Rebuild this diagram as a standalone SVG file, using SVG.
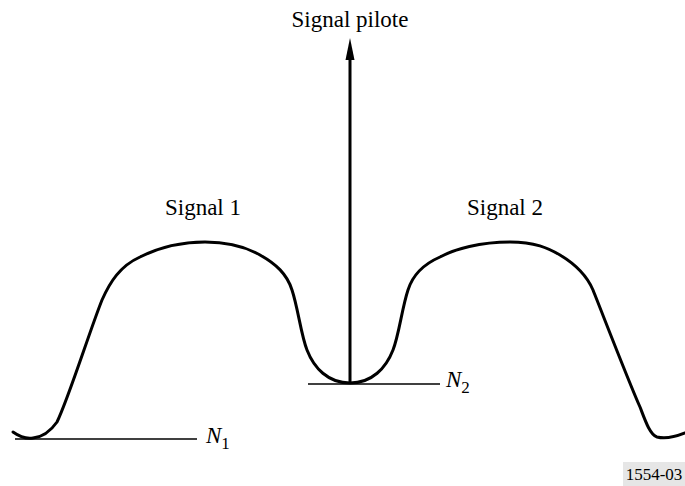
<svg xmlns="http://www.w3.org/2000/svg" width="685" height="486" viewBox="0 0 685 486">
<style>
text{font-family:"Liberation Serif","Times New Roman",serif;fill:#000}
.t{font-size:23px}
.i{font-style:italic}
.ln{stroke:#000;stroke-width:1.6;fill:none}
.cv{stroke:#000;stroke-width:3;fill:none;stroke-linecap:round}
</style>
<rect width="685" height="486" fill="#fff"/>
<g id="connectors">
<path class="cv" d="M13,432 C20,437 27,439 33,438 C43,437 50,432 57,422 C68,400 90,330 102,300 C110,282 120,266 140,257 C160,247 180,242 205,242 C230,242 248,248 260,255 C276,264 287,274 292,290 C298,308 301,335 307,350 C314,368 328,383 350,383 C372,383 386,368 393,350 C399,335 402,308 408,290 C413,274 424,264 440,257 C455,249 480,242 510,242 C535,242 548,248 560,255 C575,264 587,276 593,290 C603,315 628,380 640,407 C645,420 650,435 657,437 C665,439 675,437 685,433"/>
<line class="ln" x1="15" y1="439" x2="197" y2="439"/>
<line class="ln" x1="308" y1="384" x2="440" y2="384"/>
<line x1="350" y1="384" x2="350" y2="58" stroke="#000" stroke-width="3"/>
<path d="M345.5,60 L350,38 L354.5,60 Z" fill="#000"/>
</g>
<g id="signal-pilote"><text class="t" x="350" y="27" text-anchor="middle">Signal pilote</text></g>
<g id="signal-1"><text class="t" x="203" y="215" text-anchor="middle">Signal 1</text></g>
<g id="signal-2"><text class="t" x="505" y="215" text-anchor="middle">Signal 2</text></g>
<g id="n1"><text class="t i" x="206" y="443">N<tspan font-style="normal" font-size="17" dy="6">1</tspan></text></g>
<g id="n2"><text class="t i" x="446" y="387">N<tspan font-style="normal" font-size="17" dy="6">2</tspan></text></g>
<g id="ref"><rect x="623" y="462" width="62" height="24" fill="#e6e6e6"/><text x="654" y="480" text-anchor="middle" font-size="17">1554-03</text></g>
</svg>
